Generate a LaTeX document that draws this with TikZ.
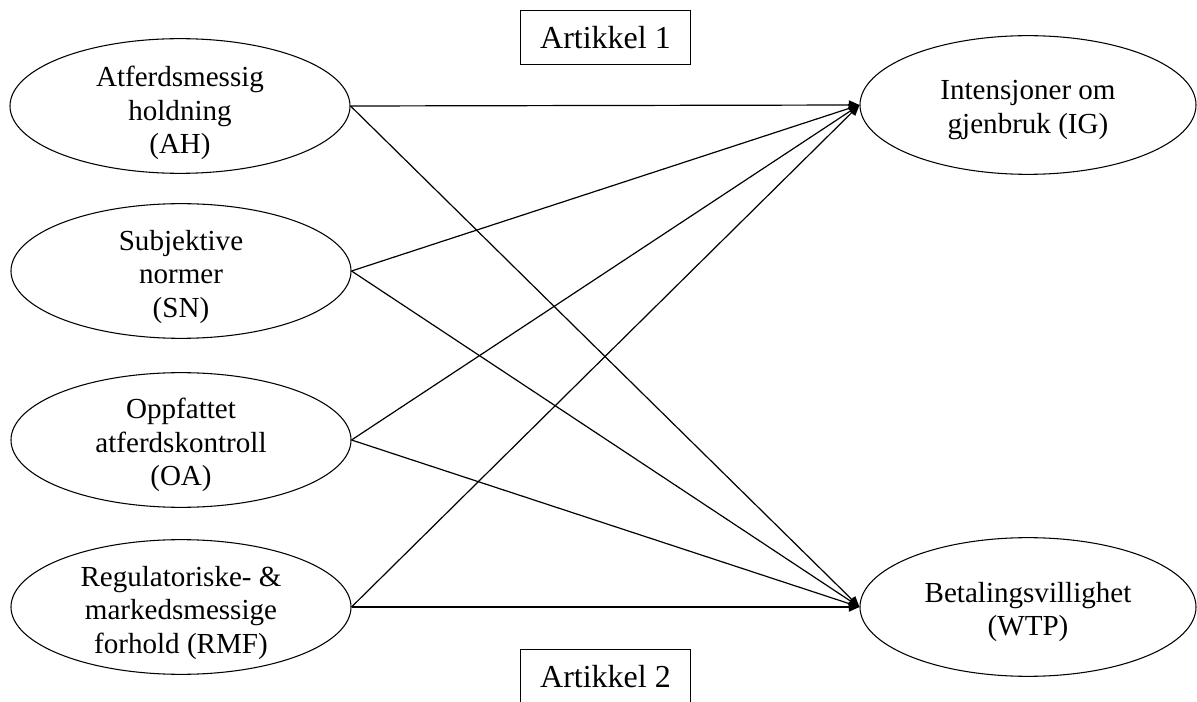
\documentclass[tikz,border=0pt]{standalone}
\usepackage{fontspec}
\setmainfont{Liberation Serif}
\usetikzlibrary{shapes.geometric,arrows.meta}
\begin{document}
\begin{tikzpicture}[x=0.75pt,y=-0.75pt,
  construct/.style={draw, ellipse, line width=0.8pt, inner sep=0pt,
    minimum width=255pt, minimum height=101pt},
  ctext/.style={align=center, inner sep=0pt,
    font=\fontsize{21.8pt}{25pt}\selectfont},
  article/.style={draw, line width=0.8pt, inner sep=0pt,
    minimum width=128pt, minimum height=41pt,
    font=\fontsize{24pt}{28pt}\selectfont},
  path/.style={line width=0.9pt, -{Triangle[length=8pt,width=7pt]}}]
  \useasboundingbox (0,0) rectangle (1197,702);

  % predictors
  \node[construct] (ah)  at (180,106) {};
  \node[construct] (sn)  at (181,271) {};
  \node[construct] (oa)  at (181,440) {};
  \node[construct] (rmf) at (181,607) {};
  \node[ctext] (ahT)  at (180,113) {Atferdsmessig\\holdning\\(AH)};
  \node[ctext] (snT)  at (181,277) {Subjektive\\normer\\(SN)};
  \node[ctext] (oaT)  at (181,445) {Oppfattet\\atferdskontroll\\(OA)};
  \node[ctext] (rmfT) at (181,613) {Regulatoriske- \&\\markedsmessige\\forhold (RMF)};

  % outcomes
  \node[construct, minimum width=252pt, minimum height=104pt] (ig)  at (1028,105) {};
  \node[construct, minimum width=252pt, minimum height=104pt] (wtp) at (1028,607) {};
  \node[ctext] (igT)  at (1028,110) {Intensjoner om\\gjenbruk (IG)};
  \node[ctext] (wtpT) at (1028,612) {Betalingsvillighet\\(WTP)};

  % article labels
  \node[article] (a1) at (605.5,37.5) {Artikkel 1};
  \node[article] (a2) at (605.5,676.5) {Artikkel 2};

  % paths
  \foreach \src in {ah,sn,oa,rmf}{
    \draw[path] (\src.east) -- (ig.west);
    \draw[path] (\src.east) -- (wtp.west);
  }
\end{tikzpicture}
\end{document}
